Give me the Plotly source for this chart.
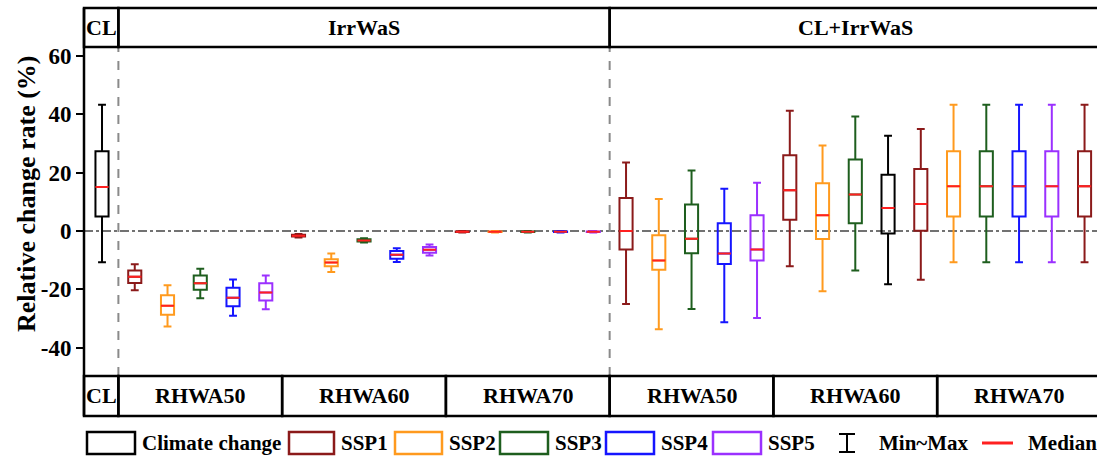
import plotly.graph_objects as go

# ---------------- data ----------------
scenarios = ["SSP1", "SSP2", "SSP3", "SSP4", "SSP5"]
rhwa_levels = ["RHWA50", "RHWA60", "RHWA70"]
panels = ["CL", "IrrWaS", "CL+IrrWaS"]

# Climate change (CL) box
cl_min, cl_q1, cl_med, cl_q3, cl_max = -10.7, 5.0, 15.1, 27.4, 43.3

# IrrWaS: RHWA50 (SSP1..5), RHWA60 (SSP1..5), RHWA70 (SSP1..5)
irr_min = [-20.3, -32.7, -23.0, -29.0, -26.8, -2.2, -14.0, -3.9, -10.6, -8.4, -0.5, -0.5, -0.5, -0.5, -0.5]
irr_q1 = [-17.8, -28.7, -20.1, -25.8, -23.8, -1.9, -12.1, -3.6, -9.5, -7.4, -0.35, -0.35, -0.35, -0.35, -0.35]
irr_med = [-15.7, -25.6, -17.9, -22.9, -21.1, -1.6, -10.8, -3.2, -8.1, -6.4, -0.25, -0.25, -0.25, -0.25, -0.25]
irr_q3 = [-13.5, -22.0, -15.2, -19.4, -17.9, -1.3, -9.7, -2.8, -6.8, -5.5, -0.15, -0.15, -0.15, -0.15, -0.15]
irr_max = [-11.4, -18.6, -12.9, -16.6, -15.2, -1.0, -7.7, -2.5, -5.9, -4.6, 0.0, 0.0, 0.0, 0.0, 0.0]
irr_colors = ["SSP1", "SSP2", "SSP3", "SSP4", "SSP5"] * 3

# CL+IrrWaS
clirr_min = [-25.0, -33.7, -26.7, -31.3, -29.8, -12.1, -20.6, -13.5, -18.2, -16.7, -10.7, -10.7, -10.7, -10.7, -10.7]
clirr_q1 = [-6.3, -13.3, -7.6, -11.3, -10.1, 3.9, -2.7, 2.7, -0.8, 0.1, 5.0, 5.0, 5.0, 5.0, 5.0]
clirr_med = [0.0, -10.1, -2.6, -7.7, -6.3, 14.0, 5.4, 12.5, 7.9, 9.3, 15.4, 15.4, 15.4, 15.4, 15.4]
clirr_q3 = [11.3, -1.4, 9.1, 2.7, 5.4, 26.0, 16.4, 24.5, 19.3, 21.3, 27.4, 27.4, 27.4, 27.4, 27.4]
clirr_max = [23.5, 11.0, 20.8, 14.5, 16.6, 41.2, 29.3, 39.3, 32.7, 35.0, 43.3, 43.3, 43.3, 43.3, 43.3]
clirr_colors = ["SSP1", "SSP2", "SSP3", "SSP4", "SSP5",
                "SSP1", "SSP2", "SSP3", "Climate change", "SSP1",
                "SSP2", "SSP3", "SSP4", "SSP5", "SSP1"]

y_ticks = [-40, -20, 0, 20, 40, 60]
y_tick_labels = ["-40", "-20", "0", "20", "40", "60"]

# ---------------- style ----------------
COLORS = {
    "Climate change": "#000000",
    "SSP1": "#8B1A1A",
    "SSP2": "#FF9A1E",
    "SSP3": "#1E5E1E",
    "SSP4": "#1515FF",
    "SSP5": "#9B30FF",
}
MED_COLOR = "#FF2020"
FONT = "Liberation Serif"

mins = [cl_min] + irr_min + clirr_min
q1s = [cl_q1] + irr_q1 + clirr_q1
meds = [cl_med] + irr_med + clirr_med
q3s = [cl_q3] + irr_q3 + clirr_q3
maxs = [cl_max] + irr_max + clirr_max
ckeys = ["Climate change"] + irr_colors + clirr_colors
pos = list(range(len(mins)))

XMIN, XMAX = -0.55, 30.38
YMIN, YMAX = -49.7, 63.1
L, T, W, H = 84, 47, 1013, 329  # plot area in pixels
FIG_W, FIG_H = 1097, 461


def xd(v):  # data x -> paper
    return (v - XMIN) / (XMAX - XMIN)


def xp(px):  # pixel x -> paper
    return (px - L) / W


def yp(py):  # pixel y -> paper
    return (T + H - py) / H


fig = go.Figure()

BOXW = 0.4
for i in pos:
    fig.add_trace(go.Box(
        x=[pos[i]], q1=[q1s[i]], median=[meds[i]], q3=[q3s[i]],
        lowerfence=[mins[i]], upperfence=[maxs[i]],
        line=dict(color=COLORS[ckeys[i]], width=2),
        fillcolor="rgba(0,0,0,0)", width=BOXW, whiskerwidth=0.6,
        boxpoints=False, showlegend=False, hoverinfo="skip",
    ))

# red median overlay
fig.add_trace(go.Box(
    x=pos, q1=meds, median=meds, q3=meds, lowerfence=meds, upperfence=meds,
    line=dict(color=MED_COLOR, width=2), fillcolor="rgba(0,0,0,0)",
    width=BOXW, whiskerwidth=0, boxpoints=False, showlegend=False, hoverinfo="skip",
))

shapes = []
annos = []
BL = dict(color="black", width=2.5)

# zero dash-dot line
shapes.append(dict(type="line", xref="paper", yref="y", x0=0, x1=1, y0=0, y1=0,
                   line=dict(color="#444444", width=1.5, dash="dashdot"), layer="below"))
# dashed panel separators
for b in [0.5, 15.5]:
    shapes.append(dict(type="line", xref="paper", yref="paper", x0=xd(b), x1=xd(b), y0=0, y1=1,
                       line=dict(color="#8a8a8a", width=2, dash="dash"), layer="below"))

# top header
top0, top1 = 1.0, yp(8)
top_bounds = [XMIN, 0.5, 15.5, 32.0]
for k in range(3):
    shapes.append(dict(type="rect", xref="paper", yref="paper",
                       x0=xd(top_bounds[k]), x1=xd(top_bounds[k + 1]), y0=top0, y1=top1, line=BL))
    cx = (max(top_bounds[k], XMIN) + min(top_bounds[k + 1], 30.5)) / 2
    annos.append(dict(text="<b>%s</b>" % panels[k], xref="paper", yref="paper", x=xd(cx),
                      y=(top0 + top1) / 2, showarrow=False, xanchor="center", yanchor="middle",
                      font=dict(family=FONT, size=22, color="black")))

# bottom header
bot0, bot1 = yp(376), yp(416)
bot_bounds = [XMIN, 0.5, 5.5, 10.5, 15.5, 20.5, 25.5, 32.0]
bot_labels = ["CL"] + rhwa_levels + rhwa_levels
for k in range(7):
    shapes.append(dict(type="rect", xref="paper", yref="paper",
                       x0=xd(bot_bounds[k]), x1=xd(bot_bounds[k + 1]), y0=bot0, y1=bot1, line=BL))
    cx = (max(bot_bounds[k], XMIN) + min(bot_bounds[k + 1], 30.5)) / 2
    annos.append(dict(text="<b>%s</b>" % bot_labels[k], xref="paper", yref="paper", x=xd(cx),
                      y=(bot0 + bot1) / 2, showarrow=False, xanchor="center", yanchor="middle",
                      font=dict(family=FONT, size=22, color="black")))

# left axis frame line
shapes.append(dict(type="line", xref="paper", yref="paper", x0=0, x1=0, y0=bot1, y1=top1, line=BL))

# y-axis title
annos.append(dict(text="<b>Relative change rate (%)</b>", xref="paper", yref="paper",
                  x=xp(26), y=yp(194), textangle=-90, showarrow=False,
                  xanchor="center", yanchor="middle",
                  font=dict(family=FONT, size=26, color="black")))

# legend (manual)
LY = 443
leg_items = [("Climate change", 87, 135), ("SSP1", 289, 334), ("SSP2", 395, 442),
             ("SSP3", 500, 548), ("SSP4", 606, 654), ("SSP5", 713, 761)]
for name, x0, x1 in leg_items:
    shapes.append(dict(type="rect", xref="paper", yref="paper", x0=xp(x0), x1=xp(x1),
                       y0=yp(LY - 11), y1=yp(LY + 11), line=dict(color=COLORS[name], width=2.5)))
    annos.append(dict(text="<b>%s</b>" % name, xref="paper", yref="paper", x=xp(x1 + 5), y=yp(LY),
                      showarrow=False, xanchor="left", yanchor="middle",
                      font=dict(family=FONT, size=21, color="black")))
# Min~Max symbol
IX = 847
shapes.append(dict(type="line", xref="paper", yref="paper", x0=xp(IX), x1=xp(IX),
                   y0=yp(LY - 9), y1=yp(LY + 9), line=dict(color="black", width=2)))
for dy in (-9, 9):
    shapes.append(dict(type="line", xref="paper", yref="paper", x0=xp(IX - 8), x1=xp(IX + 8),
                       y0=yp(LY + dy), y1=yp(LY + dy), line=dict(color="black", width=2)))
annos.append(dict(text="<b>Min~Max</b>", xref="paper", yref="paper", x=xp(877), y=yp(LY),
                  showarrow=False, xanchor="left", yanchor="middle",
                  font=dict(family=FONT, size=21, color="black")))
# Median symbol
shapes.append(dict(type="line", xref="paper", yref="paper", x0=xp(982), x1=xp(1013),
                   y0=yp(LY), y1=yp(LY), line=dict(color=MED_COLOR, width=3)))
annos.append(dict(text="<b>Median</b>", xref="paper", yref="paper", x=xp(1026), y=yp(LY),
                  showarrow=False, xanchor="left", yanchor="middle",
                  font=dict(family=FONT, size=21, color="black")))

fig.update_layout(
    width=FIG_W, height=FIG_H,
    margin=dict(l=L, r=FIG_W - L - W, t=T, b=FIG_H - T - H, autoexpand=False),
    paper_bgcolor="white", plot_bgcolor="white",
    boxmode="overlay", showlegend=False,
    shapes=shapes, annotations=annos,
    xaxis=dict(range=[XMIN, XMAX], visible=False, showgrid=False, zeroline=False),
    yaxis=dict(range=[YMIN, YMAX], tickvals=y_ticks, ticktext=y_tick_labels,
               ticks="outside", ticklen=7, tickwidth=2,
               tickcolor="black", showline=False, showgrid=False, zeroline=False,
               automargin=False,
               tickfont=dict(family=FONT, size=23, color="black", weight="bold")),
)

fig.write_html(
    "out.html",
    config={"displayModeBar": False},
    post_script="document.body.style.margin='0';document.body.style.padding='0';"
                "document.body.style.overflow='hidden';",
)
